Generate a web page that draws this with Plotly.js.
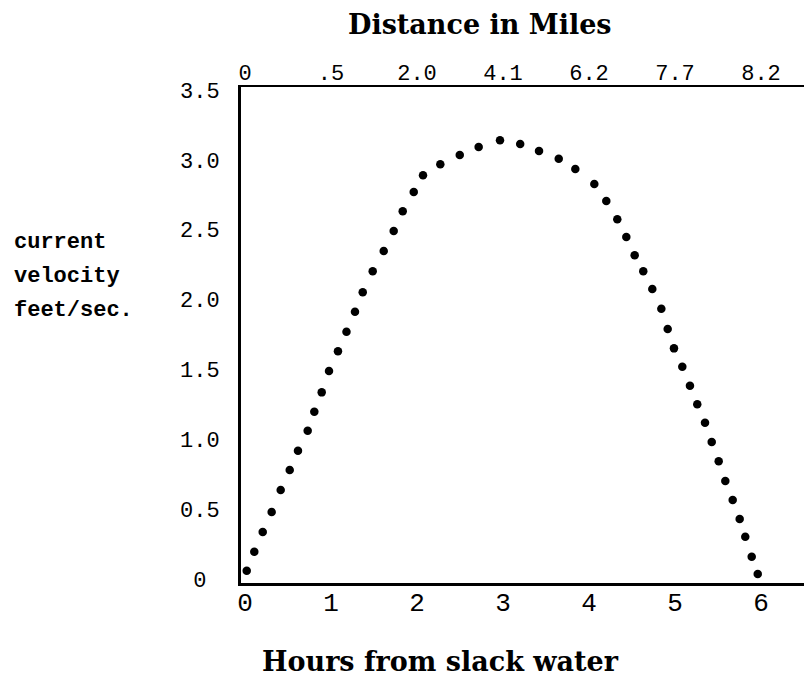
<!DOCTYPE html>
<html>
<head>
<meta charset="utf-8">
<script src="https://cdn.plot.ly/plotly-3.0.1.min.js"></script>
<style>html,body{margin:0;padding:0;background:#fff;}</style>
</head>
<body>
<div id="chart" style="width:804px;height:682px;"></div>
<script>
// Hours from slack water (x) and current velocity in feet/sec (y)
const hours = [0.02,0.108,0.206,0.310,0.415,0.520,0.616,0.729,0.806,0.892,0.977,1.081,1.180,1.279,1.369,1.485,1.613,1.729,1.834,1.962,2.070,2.271,2.497,2.717,2.965,3.200,3.419,3.648,3.841,4.062,4.201,4.329,4.434,4.531,4.631,4.736,4.841,4.915,4.988,5.085,5.174,5.259,5.349,5.427,5.508,5.585,5.671,5.752,5.817,5.892,5.962];
const velocity = [0.059,0.195,0.336,0.480,0.637,0.780,0.918,1.062,1.198,1.336,1.489,1.630,1.770,1.913,2.052,2.203,2.348,2.491,2.632,2.770,2.890,2.969,3.035,3.092,3.140,3.114,3.064,3.009,2.935,2.828,2.706,2.575,2.448,2.317,2.203,2.076,1.935,1.790,1.651,1.520,1.384,1.251,1.119,0.981,0.843,0.702,0.566,0.429,0.303,0.160,0.036];
const hourTicks = [0,1,2,3,4,5,6];
const hourLabels = ['0','1','2','3','4','5','6'];
const distanceLabels = ['0','.5','2.0','4.1','6.2','7.7','8.2'];
const velTicks = [0,0.5,1.0,1.5,2.0,2.5,3.0,3.5];
const velLabels = ['0\u00a0','0.5','1.0','1.5','2.0','2.5','3.0','3.5'];
const yTitleLines = ['current','velocity','feet/sec.'];

const mono = 'Liberation Mono, DejaVu Sans Mono, monospace';
const serif = 'DejaVu Serif, Liberation Serif, serif';

const traces = [
  {x: hours, y: velocity, type: 'scatter', mode: 'markers', xaxis: 'x', yaxis: 'y',
   marker: {color: '#000', size: 8.5}, hoverinfo: 'skip', showlegend: false},
  {x: hours, y: velocity, type: 'scatter', mode: 'markers', xaxis: 'x2', yaxis: 'y',
   marker: {color: 'rgba(0,0,0,0)', size: 1}, hoverinfo: 'skip', showlegend: false}
];

const xr = [-0.0465, 6.5];
const layout = {
  width: 804, height: 682,
  margin: {l: 241, r: 0, t: 87, b: 99, pad: 0},
  paper_bgcolor: '#fff', plot_bgcolor: '#fff',
  showlegend: false,
  xaxis: {range: xr, tickvals: hourTicks, ticktext: hourLabels, showgrid: false, zeroline: false,
          showline: true, linecolor: '#000', linewidth: 3, ticks: '', ticklabelstandoff: -6,
          tickfont: {family: mono, size: 26, color: '#000'}},
  xaxis2: {range: xr, overlaying: 'x', side: 'top', tickvals: hourTicks, ticktext: distanceLabels,
           showgrid: false, zeroline: false, showline: true, linecolor: '#000', linewidth: 2, ticks: '',
           ticklabelstandoff: -4, tickfont: {family: mono, size: 22, color: '#000'}},
  yaxis: {range: [-0.0286, 3.522], tickvals: velTicks, ticktext: velLabels, showgrid: false, zeroline: false,
          showline: true, linecolor: '#000', linewidth: 3, ticks: '', ticklabelstandoff: 14,
          tickfont: {family: mono, size: 22, color: '#000'}},
  annotations: [
    {text: '<b>Distance in Miles</b>', xref: 'paper', yref: 'paper', x: 0.4245, y: 1.127,
     xanchor: 'center', yanchor: 'middle', showarrow: false, font: {family: serif, size: 27, color: '#000'}},
    {text: '<b>Hours from slack water</b>', xref: 'paper', yref: 'paper', x: 0.355, y: -0.159,
     xanchor: 'center', yanchor: 'middle', showarrow: false, font: {family: serif, size: 27, color: '#000'}},
    {text: '<b>' + yTitleLines[0] + '</b>', xref: 'paper', yref: 'paper', x: -0.406, y: 0.686,
     xanchor: 'left', yanchor: 'middle', showarrow: false, font: {family: mono, size: 22, color: '#000'}},
    {text: '<b>' + yTitleLines[1] + '</b>', xref: 'paper', yref: 'paper', x: -0.406, y: 0.617,
     xanchor: 'left', yanchor: 'middle', showarrow: false, font: {family: mono, size: 22, color: '#000'}},
    {text: '<b>' + yTitleLines[2] + '</b>', xref: 'paper', yref: 'paper', x: -0.406, y: 0.550,
     xanchor: 'left', yanchor: 'middle', showarrow: false, font: {family: mono, size: 22, color: '#000'}}
  ]
};

Plotly.newPlot('chart', traces, layout, {staticPlot: true, displayModeBar: false});
</script>
</body>
</html>
